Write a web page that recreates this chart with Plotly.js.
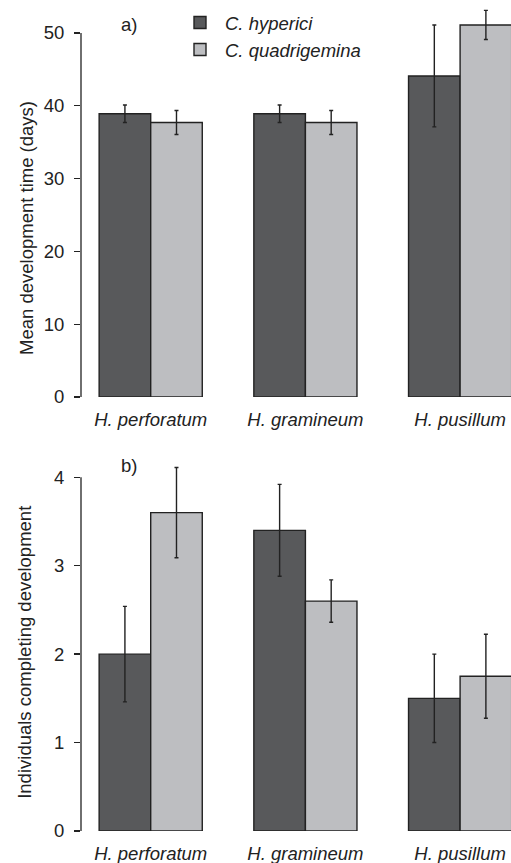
<!DOCTYPE html>
<html>
<head>
<meta charset="utf-8">
<script src="https://cdn.plot.ly/plotly-3.0.1.min.js"></script>
<style>html,body{margin:0;padding:0;background:#fff;}#chart{width:511px;height:863px;}</style>
</head>
<body>
<div id="chart"></div>
<script>
// Data
const hostPlants = ["H. perforatum", "H. gramineum", "H. pusillum"];
const speciesNames = ["C. hyperici", "C. quadrigemina"];
// a) Mean development time (days)
const devTimeHyperici = [38.9, 38.9, 44.1];
const devTimeHypericiErr = [1.2, 1.2, 7.0];
const devTimeQuadri = [37.7, 37.7, 51.1];
const devTimeQuadriErr = [1.65, 1.65, 2.0];
// b) Individuals completing development
const completeHyperici = [2.0, 3.4, 1.5];
const completeHypericiErr = [0.54, 0.52, 0.5];
const completeQuadri = [3.6, 2.6, 1.75];
const completeQuadriErr = [0.51, 0.24, 0.475];
const tickValsA = [0, 10, 20, 30, 40, 50];
const tickValsB = [0, 1, 2, 3, 4];

const DARK = "#58595b", LIGHT = "#bdbec1", INK = "#222222";
const FONT = "Liberation Sans, Arial, sans-serif";
const FS = 18.5;

function barTrace(name, y, err, color, xa, ya, showlegend) {
  return {
    type: "bar", name: name, x: hostPlants, y: y,
    xaxis: xa, yaxis: ya, showlegend: showlegend, legendgroup: name,
    marker: {color: color, line: {color: INK, width: 1.4}},
    error_y: {type: "data", array: err, visible: true, color: INK, thickness: 1.4, width: 2}
  };
}

const data = [
  barTrace(speciesNames[0], devTimeHyperici, devTimeHypericiErr, DARK, "x", "y", true),
  barTrace(speciesNames[1], devTimeQuadri, devTimeQuadriErr, LIGHT, "x", "y", true),
  barTrace(speciesNames[0], completeHyperici, completeHypericiErr, DARK, "x2", "y2", false),
  barTrace(speciesNames[1], completeQuadri, completeQuadriErr, LIGHT, "x2", "y2", false)
];

const xRange = [-0.4506, 2.329];
const xCommon = {
  type: "category", range: xRange, showline: false, ticks: "", showgrid: false, zeroline: false,
  tickfont: {family: FONT, size: FS, color: INK, style: "italic"}, ticklabelstandoff: 9, fixedrange: true
};
const yCommon = {
  showline: false, showgrid: false, zeroline: false, ticks: "outside", ticklen: 6, tickwidth: 1.3,
  tickcolor: INK, tickmode: "array", tickfont: {family: FONT, size: FS, color: INK}, ticklabelstandoff: 6
};

const layout = {
  width: 511, height: 863,
  margin: {l: 81, r: 0, t: 0, b: 32},
  paper_bgcolor: "#fff", plot_bgcolor: "rgba(0,0,0,0)",
  barmode: "group", bargap: 1/3, bargroupgap: 0,
  font: {family: FONT, size: FS, color: INK},
  xaxis: Object.assign({}, xCommon, {anchor: "y"}),
  xaxis2: Object.assign({}, xCommon, {anchor: "y2"}),
  yaxis: Object.assign({}, yCommon, {domain: [0.52226, 1], range: [0, 54.53], tickvals: tickValsA, anchor: "x"}),
  yaxis2: Object.assign({}, yCommon, {domain: [0, 0.47052], range: [0, 4.4216], tickvals: tickValsB, anchor: "x2"}),
  legend: {
    x: 0.2186, y: 0.9952, xanchor: "left", yanchor: "top", itemwidth: 40,
    font: {family: FONT, size: FS, color: INK, style: "italic"},
    bgcolor: "rgba(0,0,0,0)", tracegroupgap: 3, traceorder: "normal"
  },
  shapes: [
    {type: "line", xref: "paper", yref: "y", x0: 0, x1: 0, y0: 0, y1: 50, line: {color: INK, width: 1.3}},
    {type: "line", xref: "paper", yref: "y2", x0: 0, x1: 0, y0: 0, y1: 4, line: {color: INK, width: 1.3}}
  ],
  annotations: [
    {text: "a)", xref: "paper", yref: "paper", x: 0.1116, y: 0.9711, xanchor: "center", yanchor: "middle", showarrow: false, font: {family: FONT, size: FS, color: INK}},
    {text: "b)", xref: "paper", yref: "paper", x: 0.1116, y: 0.4398, xanchor: "center", yanchor: "middle", showarrow: false, font: {family: FONT, size: FS, color: INK}},
    {text: "Mean development time (days)", xref: "paper", yref: "paper", x: -0.128, y: (831 - 228) / 831, xanchor: "center", yanchor: "middle", textangle: -90, showarrow: false, font: {family: FONT, size: FS, color: INK}},
    {text: "Individuals completing development", xref: "paper", yref: "paper", x: -0.133, y: (831 - 652) / 831, xanchor: "center", yanchor: "middle", textangle: -90, showarrow: false, font: {family: FONT, size: FS, color: INK}}
  ]
};

Plotly.newPlot("chart", data, layout, {displayModeBar: false, staticPlot: true});
</script>
</body>
</html>
